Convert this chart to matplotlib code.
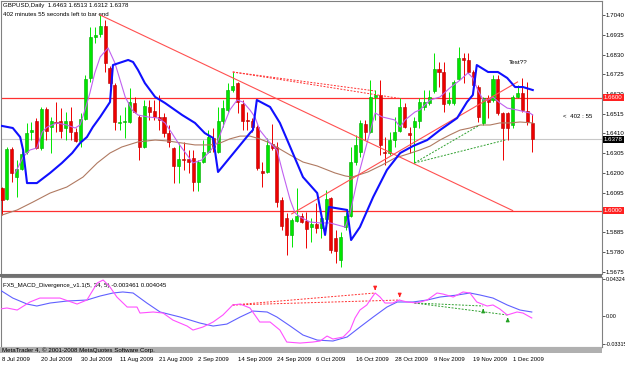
import matplotlib.pyplot as plt
from matplotlib.patches import Rectangle
import matplotlib.transforms as mtransforms

plt.rcParams['font.family'] = ['Liberation Sans', 'DejaVu Sans']

# ---- daily GBPUSD candles, bar 0 = 8 Jul 2009 ----
opens = [1.6120, 1.6061, 1.6327, 1.6178, 1.6221, 1.6311, 1.6418, 1.6476, 1.6333, 1.6540,
         1.6444, 1.6471, 1.6476, 1.6439, 1.6476, 1.6418, 1.6370, 1.6487, 1.6705, 1.6923,
         1.6939, 1.6982, 1.6758, 1.6668, 1.6468, 1.6471, 1.6471, 1.6572, 1.6498, 1.6338,
         1.6551, 1.6529, 1.6498, 1.6498, 1.6412, 1.6333, 1.6237, 1.6274, 1.6274, 1.6279,
         1.6152, 1.6258, 1.6311, 1.6386, 1.6311, 1.6476, 1.6535, 1.6641, 1.6678, 1.6567,
         1.6482, 1.6476, 1.6444, 1.6210, 1.6205, 1.6354, 1.6338, 1.6056, 1.5960, 1.5870,
         1.5944, 1.5971, 1.5944, 1.5912, 1.5928, 1.5907, 1.5955, 1.6067, 1.5854, 1.5737,
         1.5912, 1.5971, 1.6258, 1.6311, 1.6460, 1.6418, 1.6604, 1.6615, 1.6311, 1.6306,
         1.6375, 1.6423, 1.6551, 1.6412, 1.6444, 1.6476, 1.6551, 1.6572, 1.6636, 1.6753,
         1.6737, 1.6572, 1.6572, 1.6700, 1.6811, 1.6801, 1.6737, 1.6657, 1.6466, 1.6599,
         1.6588, 1.6700, 1.6519, 1.6519, 1.6455, 1.6604, 1.6625, 1.6529, 1.6463]
highs = [1.6125, 1.6338, 1.6338, 1.6269, 1.6317, 1.6466, 1.6471, 1.6492, 1.6551, 1.6551,
         1.6498, 1.6577, 1.6545, 1.6524, 1.6551, 1.6439, 1.6519, 1.6721, 1.6976, 1.6976,
         1.7040, 1.7014, 1.6769, 1.6678, 1.6508, 1.6551, 1.6652, 1.6604, 1.6508, 1.6588,
         1.6588, 1.6588, 1.6615, 1.6519, 1.6455, 1.6338, 1.6359, 1.6365, 1.6322, 1.6322,
         1.6269, 1.6375, 1.6428, 1.6439, 1.6551, 1.6588, 1.6678, 1.6737, 1.6684, 1.6588,
         1.6524, 1.6492, 1.6455, 1.6258, 1.6386, 1.6460, 1.6365, 1.6072, 1.5987, 1.5960,
         1.6120, 1.5987, 1.5992, 1.5960, 1.6040, 1.5987, 1.6109, 1.6072, 1.5896, 1.5886,
         1.5992, 1.6338, 1.6402, 1.6482, 1.6482, 1.6694, 1.6641, 1.6694, 1.6391, 1.6418,
         1.6498, 1.6599, 1.6572, 1.6444, 1.6498, 1.6599, 1.6641, 1.6641, 1.6838, 1.6790,
         1.6790, 1.6631, 1.6694, 1.6870, 1.6838, 1.6838, 1.6748, 1.6668, 1.6604, 1.6615,
         1.6721, 1.6721, 1.6524, 1.6524, 1.6615, 1.6668, 1.6705, 1.6684, 1.6513]
lows = [1.5976, 1.6056, 1.6152, 1.6072, 1.6216, 1.6301, 1.6375, 1.6327, 1.6322, 1.6375,
        1.6306, 1.6418, 1.6386, 1.6375, 1.6375, 1.6365, 1.6338, 1.6482, 1.6684, 1.6891,
        1.6923, 1.6737, 1.6657, 1.6428, 1.6428, 1.6386, 1.6466, 1.6519, 1.6269, 1.6333,
        1.6482, 1.6482, 1.6428, 1.6391, 1.6338, 1.6146, 1.6146, 1.6216, 1.6200, 1.6104,
        1.6104, 1.6253, 1.6306, 1.6311, 1.6306, 1.6444, 1.6524, 1.6631, 1.6519, 1.6428,
        1.6428, 1.6418, 1.6216, 1.6125, 1.6200, 1.6322, 1.6019, 1.5896, 1.5763, 1.5806,
        1.5939, 1.5934, 1.5801, 1.5833, 1.5880, 1.5854, 1.5939, 1.5774, 1.5721, 1.5700,
        1.5896, 1.5966, 1.6242, 1.6285, 1.6375, 1.6412, 1.6482, 1.6295, 1.6242, 1.6295,
        1.6338, 1.6418, 1.6439, 1.6306, 1.6253, 1.6439, 1.6535, 1.6561, 1.6625, 1.6657,
        1.6524, 1.6561, 1.6561, 1.6694, 1.6678, 1.6732, 1.6657, 1.6471, 1.6455, 1.6492,
        1.6577, 1.6508, 1.6269, 1.6375, 1.6439, 1.6599, 1.6524, 1.6455, 1.6312]
closes = [1.6056, 1.6327, 1.6200, 1.6221, 1.6301, 1.6412, 1.6428, 1.6333, 1.6540, 1.6423,
          1.6476, 1.6466, 1.6423, 1.6476, 1.6418, 1.6370, 1.6487, 1.6700, 1.6923, 1.6934,
          1.6982, 1.6785, 1.6678, 1.6471, 1.6471, 1.6476, 1.6577, 1.6524, 1.6338, 1.6556,
          1.6524, 1.6498, 1.6482, 1.6412, 1.6365, 1.6237, 1.6274, 1.6269, 1.6258, 1.6152,
          1.6258, 1.6311, 1.6391, 1.6338, 1.6476, 1.6545, 1.6641, 1.6662, 1.6577, 1.6476,
          1.6476, 1.6444, 1.6226, 1.6200, 1.6349, 1.6333, 1.6045, 1.5918, 1.5870, 1.5950,
          1.5971, 1.5939, 1.5902, 1.5928, 1.5907, 1.5960, 1.6061, 1.5790, 1.5785, 1.5859,
          1.5971, 1.6258, 1.6349, 1.6466, 1.6418, 1.6604, 1.6615, 1.6349, 1.6306, 1.6375,
          1.6418, 1.6551, 1.6444, 1.6402, 1.6476, 1.6577, 1.6577, 1.6604, 1.6753, 1.6737,
          1.6567, 1.6588, 1.6684, 1.6811, 1.6801, 1.6737, 1.6668, 1.6498, 1.6599, 1.6577,
          1.6700, 1.6519, 1.6439, 1.6439, 1.6604, 1.6625, 1.6535, 1.6471, 1.6378]

# ---- moving averages (bar position, price) ----
blue_x = [0, 2.2, 3.7, 4.3, 5.1, 7.1, 9.8, 12.2, 14.3, 15.9, 17.3, 18.5, 20.0, 22.0, 22.6,
          25.7, 26.7, 27.7, 29.1, 31.2, 33.2, 36.7, 39.3, 41.3, 43.0, 44.0, 50.5, 51.1, 51.9,
          54.6, 56.6, 58.7, 61.3, 64.2, 65.8, 66.6, 70.3, 71.1, 72.9, 75.6, 78.4, 81.1, 83.7,
          86.6, 89.2, 92.7, 94.7, 95.9, 96.7, 99.0, 101.0, 102.9, 104.5, 106.1, 108.1]
blue_y = [1.6450, 1.6439, 1.6391, 1.6322, 1.6146, 1.6146, 1.6200, 1.6253, 1.6306, 1.6359,
          1.6391, 1.6444, 1.6498, 1.6577, 1.6774, 1.6801, 1.6790, 1.6748, 1.6678, 1.6604,
          1.6572, 1.6508, 1.6466, 1.6412, 1.6386, 1.6205, 1.6412, 1.6428, 1.6588, 1.6551,
          1.6466, 1.6338, 1.6178, 1.6093, 1.5870, 1.6019, 1.6003, 1.5843, 1.5912, 1.6072,
          1.6216, 1.6306, 1.6343, 1.6375, 1.6428, 1.6492, 1.6577, 1.6615, 1.6774, 1.6737,
          1.6737, 1.6705, 1.6657, 1.6657, 1.6641]
purple_x = [2.7, 4.3, 5.7, 7.1, 8.2, 9.2, 11.2, 13.2, 14.9, 15.9, 16.9, 17.9, 18.9, 20.0,
            21.6, 23.0, 25.1, 26.5, 27.7, 29.7, 31.8, 33.2, 34.6, 35.9, 37.7, 38.9, 40.7,
            42.0, 43.8, 45.0, 46.4, 47.9, 49.1, 50.5, 51.5, 52.5, 54.6, 56.0, 57.2, 58.7,
            59.7, 60.7, 62.7, 64.8, 66.8, 69.9, 70.9, 72.5, 74.5, 76.0, 77.4, 80.0, 81.1,
            82.1, 84.1, 85.1, 87.2, 89.2, 91.2, 93.3, 94.9, 95.9, 96.9, 98.0, 99.0, 100.0,
            101.4, 102.9, 104.9, 107.5, 108.1]
purple_y = [1.6200, 1.6285, 1.6322, 1.6333, 1.6418, 1.6444, 1.6466, 1.6455, 1.6439, 1.6455,
            1.6535, 1.6625, 1.6732, 1.6817, 1.6865, 1.6785, 1.6604, 1.6535, 1.6508, 1.6498,
            1.6492, 1.6466, 1.6412, 1.6359, 1.6295, 1.6253, 1.6269, 1.6306, 1.6359, 1.6444,
            1.6535, 1.6588, 1.6577, 1.6535, 1.6498, 1.6428, 1.6359, 1.6322, 1.6200, 1.6056,
            1.5987, 1.5966, 1.5939, 1.5934, 1.5934, 1.5912, 1.5987, 1.6178, 1.6375, 1.6519,
            1.6498, 1.6482, 1.6444, 1.6482, 1.6524, 1.6535, 1.6588, 1.6604, 1.6652, 1.6694,
            1.6732, 1.6705, 1.6641, 1.6588, 1.6588, 1.6604, 1.6572, 1.6545, 1.6535, 1.6519,
            1.6508]
brown_x = [0, 3.1, 6.3, 9.8, 13.2, 16.5, 19.4, 22.0, 24.4, 27.7, 31.2, 33.8, 36.7, 39.3,
           42.4, 44.4, 46.4, 48.5, 50.5, 52.5, 54.6, 56.6, 58.7, 61.3, 64.2, 67.8, 69.9,
           71.3, 74.5, 77.4, 80.0, 82.7, 85.1, 87.2, 89.2, 91.2, 93.3, 95.3, 97.4, 99.4,
           101.4, 103.5, 105.5, 108.1]
brown_y = [1.5976, 1.6003, 1.6045, 1.6093, 1.6125, 1.6178, 1.6253, 1.6306, 1.6338, 1.6365,
           1.6375, 1.6370, 1.6359, 1.6349, 1.6349, 1.6359, 1.6381, 1.6396, 1.6396, 1.6381,
           1.6359, 1.6327, 1.6295, 1.6258, 1.6237, 1.6200, 1.6184, 1.6178, 1.6205, 1.6242,
           1.6279, 1.6301, 1.6322, 1.6343, 1.6375, 1.6402, 1.6428, 1.6439, 1.6455, 1.6455,
           1.6466, 1.6466, 1.6471, 1.6466]

# ---- FX5_MACD_Divergence ----
sig_x = [-0.4, 2.2, 5.1, 7.1, 9.8, 13.2, 17.3, 20.0, 22.6, 24.6, 26.7, 29.5, 32.2, 36.3,
         40.3, 43.0, 45.8, 48.5, 51.1, 54.0, 56.0, 58.7, 61.3, 64.2, 67.4, 70.3, 72.9, 75.6,
         78.4, 80.5, 83.7, 86.6, 89.2, 92.7, 95.3, 97.4, 100.0, 102.9, 105.5, 107.9]
sig_y = [0.0304, 0.0210, 0.0140, 0.0117, 0.0152, 0.0175, 0.0187, 0.0234, 0.0269, 0.0281,
         0.0269, 0.0152, 0.0047, -0.0012, -0.0082, -0.0117, -0.0094, -0.0012, 0.0058, 0.0047,
         -0.0012, -0.0117, -0.0222, -0.0281, -0.0292, -0.0245, -0.0129, -0.0012, 0.0105,
         0.0164, 0.0164, 0.0187, 0.0222, 0.0245, 0.0269, 0.0245, 0.0210, 0.0129, 0.0070, 0.0047]
macd_x = [-0.4, 1.0, 3.1, 5.7, 7.7, 11.8, 15.3, 17.3, 19.4, 20.6, 22.0, 23.4, 25.5, 27.5,
          28.1, 30.8, 32.8, 34.8, 37.7, 38.9, 40.9, 43.0, 45.0, 47.0, 48.5, 50.5, 52.5, 54.6,
          56.6, 58.0, 60.7, 63.3, 64.8, 66.2, 67.4, 69.5, 70.9, 71.9, 72.9, 74.3, 75.4, 76.0,
          77.0, 78.0, 79.6, 80.9, 82.5, 84.5, 86.6, 88.6, 89.8, 91.9, 93.9, 95.3, 96.7, 98.8,
          100.0, 101.4, 102.9, 104.9, 106.1, 107.9]
macd_y = [0.0082, 0.0094, 0.0070, 0.0164, 0.0210, 0.0210, 0.0140, 0.0187, 0.0386, 0.0421,
          0.0339, 0.0222, 0.0105, 0.0105, 0.0035, 0.0047, 0.0035, -0.0047, -0.0117, -0.0164,
          -0.0129, -0.0070, 0.0012, 0.0129, 0.0140, 0.0094, -0.0070, -0.0070, -0.0164, -0.0304,
          -0.0316, -0.0304, -0.0292, -0.0234, -0.0269, -0.0245, -0.0164, -0.0023, 0.0070,
          0.0129, 0.0222, 0.0269, 0.0222, 0.0152, 0.0152, 0.0187, 0.0164, 0.0152, 0.0187,
          0.0269, 0.0257, 0.0222, 0.0281, 0.0269, 0.0164, 0.0117, 0.0129, 0.0082, 0.0012,
          0.0047, 0.0035, -0.0023]

# divergence lines: (bar, value) pairs
bear_price = [((47, 1.6737), (76, 1.6636)), ((47, 1.6737), (81, 1.6596))]
bull_price = [((84, 1.6253), (97, 1.6450)), ((84, 1.6253), (102.5, 1.6375))]
bear_macd = [((47, 0.0129), (76, 0.0269)), ((47, 0.0129), (81, 0.0187))]
bull_macd = [((84, 0.0152), (98, 0.0117)), ((84, 0.0152), (103, 0.0012))]

# trend lines
down_line = ((20, 1.7040), (104, 1.6000))
up_line = ((59, 1.5982), (105, 1.6684))
levels = [1.6600, 1.6000]
last_price = 1.6378

date_pos = list(range(0, 105, 8))
date_labels = ['8 Jul 2009', '20 Jul 2009', '30 Jul 2009', '11 Aug 2009', '21 Aug 2009',
               '2 Sep 2009', '14 Sep 2009', '24 Sep 2009', '6 Oct 2009', '16 Oct 2009',
               '28 Oct 2009', '9 Nov 2009', '19 Nov 2009', '1 Dec 2009']
price_ticks = [1.7040, 1.6935, 1.6830, 1.6725, 1.6620, 1.6515, 1.6410, 1.6305,
               1.6200, 1.6095, 1.5990, 1.5885, 1.5780, 1.5675]
hidden_ticks = [1.5990]  # covered by the 1.6000 tag
macd_ticks = [0.043246, 0.0, -0.033154]
macd_tick_labels = ['0.043246', '0.00', '-0.033154']

W, H = 625, 365
fig = plt.figure(figsize=(W / 100, H / 100), dpi=100)

ax = fig.add_axes([1 / W, 1 - 274 / H, 601 / W, 273 / H])
ax2 = fig.add_axes([1 / W, 1 - 347 / H, 601 / W, 70 / H])

for a in (ax, ax2):
    a.set_xlim(-0.2, 122.2)
    for s in a.spines.values():
        s.set_color('#808080')
        s.set_linewidth(0.8)
    a.yaxis.tick_right()
    a.tick_params(axis='y', direction='out', length=2, width=0.6, color='#404040',
                  labelsize=4.4, pad=0.6, labelcolor='black')
ax.set_ylim(1.56623, 1.71147)
ax2.set_ylim(-0.0362, 0.0456)

# candles
idx = list(range(len(opens)))
cols = ['#00e600' if c >= o else '#ee0000' for o, c in zip(opens, closes)]
edges = ['#00a800' if c >= o else '#b00000' for o, c in zip(opens, closes)]
bottoms = [min(o, c) for o, c in zip(opens, closes)]
heights = [max(abs(c - o), 0.0003) for o, c in zip(opens, closes)]
ax.vlines(idx, lows, highs, colors=cols, lw=0.7, zorder=3)
ax.bar(idx, heights, bottom=bottoms, width=0.62, color=cols, edgecolor=edges, lw=0.4, zorder=4)

# levels
for lv in levels:
    ax.axhline(lv, color='#ff3030', lw=0.9, zorder=2)
ax.axhline(last_price, color='#c8c8c8', lw=0.8, zorder=1)

ax.plot(brown_x, brown_y, color='#b07a62', lw=0.8, zorder=5)
ax.plot(purple_x, purple_y, color='#c060f0', lw=0.8, zorder=5)
ax.plot(blue_x, blue_y, color='#1010ff', lw=1.5, zorder=6)

for p0, p1 in (down_line, up_line):
    ax.plot([p0[0], p1[0]], [p0[1], p1[1]], color='#ff5050', lw=0.8, zorder=5)
for p0, p1 in bear_price:
    ax.plot([p0[0], p1[0]], [p0[1], p1[1]], color='#ff3030', lw=0.7, ls=(0, (2, 1.5)), zorder=5)
for p0, p1 in bull_price:
    ax.plot([p0[0], p1[0]], [p0[1], p1[1]], color='#30a030', lw=0.7, ls=(0, (2, 1.5)), zorder=5)

ax.set_yticks(price_ticks)
ax.set_yticklabels(['' if t in hidden_ticks else '%.4f' % t for t in price_ticks])
ax.set_xticks([])

# price tags on the axis
tr = mtransforms.blended_transform_factory(ax.transAxes, ax.transData)
for lv in levels:
    ax.text(1.003, lv, '%.4f' % lv, transform=tr, fontsize=4.4, color='white', va='center',
            ha='left', clip_on=False, zorder=20,
            bbox=dict(boxstyle='square,pad=0.2', fc='#ff2020', ec='none'))
ax.text(1.003, last_price, '%.4f' % last_price, transform=tr, fontsize=4.4, color='white',
        va='center', ha='left', clip_on=False, zorder=20,
        bbox=dict(boxstyle='square,pad=0.2', fc='black', ec='none'))

ax.text(103.3, 1.6790, 'Test??', fontsize=4.6, color='black', va='center', ha='left')
ax.text(114.2, 1.6498, '<  402 : 55', fontsize=4.4, color='black', va='center', ha='left')
ax.text(0.004, 0.982, 'GBPUSD,Daily  1.6463 1.6513 1.6312 1.6378', transform=ax.transAxes,
        fontsize=4.4, va='center', ha='left')
ax.text(0.004, 0.952, '402 minutes 55 seconds left to bar end', transform=ax.transAxes,
        fontsize=4.4, va='center', ha='left')

# indicator window
ax2.plot(sig_x, sig_y, color='#6060ff', lw=0.8, zorder=4)
ax2.plot(macd_x, macd_y, color='#ff50ff', lw=0.8, zorder=5)
for p0, p1 in bear_macd:
    ax2.plot([p0[0], p1[0]], [p0[1], p1[1]], color='#ff3030', lw=0.7, ls=(0, (2, 1.5)), zorder=3)
    ax2.annotate('', xy=(p1[0], p1[1]), xytext=(p1[0], p1[1] + 0.008),
                 arrowprops=dict(arrowstyle='-|>', color='#ff2020', lw=0.8, mutation_scale=5))
for p0, p1 in bull_macd:
    ax2.plot([p0[0], p1[0]], [p0[1], p1[1]], color='#30a030', lw=0.7, ls=(0, (2, 1.5)), zorder=3)
    ax2.annotate('', xy=(p1[0], p1[1]), xytext=(p1[0], p1[1] - 0.008),
                 arrowprops=dict(arrowstyle='-|>', color='#20a020', lw=0.8, mutation_scale=5))
ax2.set_yticks(macd_ticks)
ax2.set_yticklabels(macd_tick_labels)
ax2.tick_params(axis='y', labelsize=3.9)
ax2.text(0.004, 0.88, 'FX5_MACD_Divergence_v1.1(5, 34, 5) -0.003461 0.004045',
         transform=ax2.transAxes, fontsize=4.4, va='center', ha='left')

ax2.set_xticks(date_pos)
ax2.set_xticklabels(date_labels, fontsize=4.3, ha='left')
ax2.tick_params(axis='x', length=0, pad=7.5)

# window separators and status strip
fig.add_artist(Rectangle((0, 1 - 277 / H), 602 / W, 3 / H, transform=fig.transFigure,
                         fc='#707070', ec='none'))
fig.add_artist(Rectangle((0, 1 - 353 / H), 602 / W, 6 / H, transform=fig.transFigure,
                         fc='#b0b0b0', ec='none'))
fig.text(2 / W, 1 - 350 / H, 'MetaTrader 4, \u00a9 2001-2008 MetaQuotes Software Corp.',
         fontsize=4.4, va='center', ha='left')

plt.savefig('out.png', dpi=100)
